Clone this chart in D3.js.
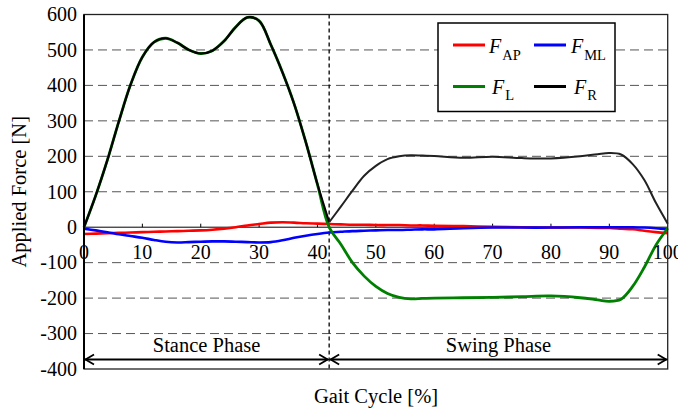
<!DOCTYPE html>
<html>
<head>
<meta charset="utf-8">
<script src="https://cdn.jsdelivr.net/npm/d3@7"></script>
<style>
  body { margin: 0; background: #fff; }
  #chart text { font-family: "Liberation Serif", "Times New Roman", Times, serif; fill: #000; }
</style>
</head>
<body>
<svg id="chart" width="678" height="414"></svg>
<script>
// gait cycle samples [%]
const gaitPct = [0, 2, 4, 6, 8, 10, 12, 14, 16, 18, 20, 22, 24, 26, 28, 30, 32, 34, 36, 38, 40, 42,
  44, 46, 48, 50, 52, 54, 56, 58, 60, 65, 70, 75, 80, 85, 88, 90, 92, 94, 96, 98, 100];

// applied forces [N]
const forceAP = [-19, -18, -17, -16, -15, -14, -13, -12, -11, -10, -9, -7, -4, 0, 5, 9, 13, 14, 13, 11, 10, 9,
  8, 7, 7, 6, 6, 6, 5, 5, 4, 3, 1, 0, -1, -1, -2, -2, -4, -6, -10, -14, -17];
const forceML = [-4, -9, -14, -20, -25, -30, -36, -41, -43, -42, -41, -40, -40, -41, -42, -43, -42, -37, -30, -24, -19, -15,
  -13, -11, -10, -9, -8, -8, -7, -6, -6, -3, -1, -1, -1, 0, 0, 0, 0, 0, -1, -3, -6];
const forceL = [0, 89, 189, 300, 403, 480, 522, 533, 520, 500, 490, 498, 525, 565, 592, 582, 515, 437, 348, 240, 120, 0,
  -48, -100, -138, -167, -187, -198, -202, -201, -200, -199, -198, -196, -194, -199, -205, -209, -203, -167, -113, -50, -3];
const forceR = [0, 89, 189, 300, 403, 480, 522, 533, 520, 500, 490, 498, 525, 565, 592, 582, 515, 437, 348, 240, 121, 14,
  58, 103, 145, 173, 192, 200, 203, 202, 201, 196, 199, 195, 194, 200, 206, 209, 205, 178, 133, 68, 10];

const yTicks = [-400, -300, -200, -100, 0, 100, 200, 300, 400, 500, 600];
const xTicks = [0, 10, 20, 30, 40, 50, 60, 70, 80, 90, 100];
const stanceEnd = 42;

const svg = d3.select("#chart");
const plotL = 84, plotR = 667.7, plotT = 14.5, plotB = 369;

const x = d3.scaleLinear().domain([0, 100]).range([plotL, plotR]);
const y = d3.scaleLinear().domain([-400, 600]).range([plotB, plotT]);

// horizontal dashed grid
svg.append("g")
  .selectAll("line")
  .data(yTicks.filter(d => d !== 0 && d !== 600 && d !== -400))
  .join("line")
  .attr("x1", plotL).attr("x2", plotR)
  .attr("y1", d => y(d)).attr("y2", d => y(d))
  .attr("stroke", "#555")
  .attr("stroke-width", 1)
  .attr("stroke-dasharray", "9,5");

// phase boundary
svg.append("line")
  .attr("x1", x(stanceEnd)).attr("x2", x(stanceEnd))
  .attr("y1", plotT).attr("y2", plotB)
  .attr("stroke", "#000")
  .attr("stroke-width", 1.3)
  .attr("stroke-dasharray", "4,3");

// zero line with small ticks
svg.append("line")
  .attr("x1", plotL).attr("x2", plotR)
  .attr("y1", y(0)).attr("y2", y(0))
  .attr("stroke", "#000").attr("stroke-width", 1);
svg.append("g")
  .selectAll("line")
  .data(xTicks.slice(1, -1))
  .join("line")
  .attr("x1", d => x(d)).attr("x2", d => x(d))
  .attr("y1", y(0)).attr("y2", y(0) - 3.5)
  .attr("stroke", "#000").attr("stroke-width", 1);

// curves
const line = d3.line()
  .x(d => x(d[0]))
  .y(d => y(d[1]))
  .curve(d3.curveCatmullRom.alpha(0.5));

function pairs(vals, from, to) {
  return gaitPct.map((g, i) => [g, vals[i]]).filter(d => d[0] >= from && d[0] <= to);
}

const series = [
  { vals: forceAP, color: "#ff0000", width: 2.6 },
  { vals: forceML, color: "#0000ff", width: 2.6 },
  { vals: forceL, color: "#008000", width: 2.8 }
];
series.forEach(s => {
  svg.append("path")
    .attr("d", line(pairs(s.vals, 0, 100)))
    .attr("fill", "none")
    .attr("stroke", s.color)
    .attr("stroke-width", s.width);
});
// resultant has a kink at the end of stance, draw it per phase
svg.append("path")
  .attr("d", line(pairs(forceR, 0, stanceEnd)))
  .attr("fill", "none").attr("stroke", "#000").attr("stroke-width", 2.2);
svg.append("path")
  .attr("d", line(pairs(forceR, stanceEnd, 100)))
  .attr("fill", "none").attr("stroke", "#222").attr("stroke-width", 2);

// y tick labels
svg.append("g")
  .selectAll("text")
  .data(yTicks)
  .join("text")
  .attr("x", 77)
  .attr("y", d => y(d))
  .attr("dy", "0.34em")
  .attr("text-anchor", "end")
  .style("font-size", "20px")
  .text(d => d);

// x tick labels (inside the plot, under the zero line)
svg.append("g")
  .selectAll("text")
  .data(xTicks)
  .join("text")
  .attr("x", d => x(d))
  .attr("y", 258.5)
  .attr("text-anchor", "middle")
  .style("font-size", "20px")
  .text(d => d);

// frame
svg.append("rect")
  .attr("x", plotL).attr("y", plotT)
  .attr("width", plotR - plotL).attr("height", plotB - plotT)
  .attr("fill", "none").attr("stroke", "#222").attr("stroke-width", 1.3);
svg.append("line")
  .attr("x1", plotL).attr("x2", plotL).attr("y1", plotT).attr("y2", plotB)
  .attr("stroke", "#000").attr("stroke-width", 2);

// phase arrows
const arrowY = 359.5;
function arrow(x0, x1, label) {
  const g = svg.append("g").attr("stroke", "#000").attr("stroke-width", 1.8).attr("fill", "none");
  g.append("line").attr("x1", x0 + 1).attr("x2", x1 - 1).attr("y1", arrowY).attr("y2", arrowY);
  g.append("path").attr("d", `M${x0 + 10},${arrowY - 5}L${x0 + 1.5},${arrowY}L${x0 + 10},${arrowY + 5}`);
  g.append("path").attr("d", `M${x1 - 10},${arrowY - 5}L${x1 - 1.5},${arrowY}L${x1 - 10},${arrowY + 5}`);
  svg.append("text")
    .attr("x", (x0 + x1) / 2)
    .attr("y", 351.5)
    .attr("text-anchor", "middle")
    .style("font-size", "20.5px")
    .text(label);
}
arrow(x(0), x(stanceEnd), "Stance Phase");
arrow(x(stanceEnd), x(100), "Swing Phase");

// axis titles
svg.append("text")
  .attr("x", 376)
  .attr("y", 403)
  .attr("text-anchor", "middle")
  .style("font-size", "20.5px")
  .text("Gait Cycle [%]");
svg.append("text")
  .attr("transform", `translate(26,${(plotT + plotB) / 2}) rotate(-90)`)
  .attr("text-anchor", "middle")
  .style("font-size", "20.5px")
  .text("Applied Force [N]");

// legend
const legend = svg.append("g");
legend.append("rect")
  .attr("x", 438).attr("y", 23)
  .attr("width", 177).attr("height", 88.5)
  .attr("fill", "#fff").attr("stroke", "#000").attr("stroke-width", 1.5);

const legendItems = [
  { color: "#ff0000", sub: "AP", lx: 453, ly: 45, fx: 489, sy: 7.5 },
  { color: "#0000ff", sub: "ML", lx: 534, ly: 45, fx: 571, sy: 7.5 },
  { color: "#008000", sub: "L", lx: 453, ly: 86.5, fx: 492, sy: 6 },
  { color: "#000000", sub: "R", lx: 534, ly: 86.5, fx: 574, sy: 6 }
];
legendItems.forEach(d => {
  legend.append("line")
    .attr("x1", d.lx).attr("x2", d.lx + 32)
    .attr("y1", d.ly).attr("y2", d.ly)
    .attr("stroke", d.color).attr("stroke-width", 3);
  const t = legend.append("text")
    .attr("x", d.fx)
    .attr("y", d.ly + 7.5)
    .style("font-size", "20px");
  t.append("tspan").style("font-style", "italic").text("F");
  t.append("tspan")
    .attr("dx", 1)
    .attr("dy", d.sy)
    .style("font-size", "14.5px")
    .text(d.sub);
});
</script>
</body>
</html>
